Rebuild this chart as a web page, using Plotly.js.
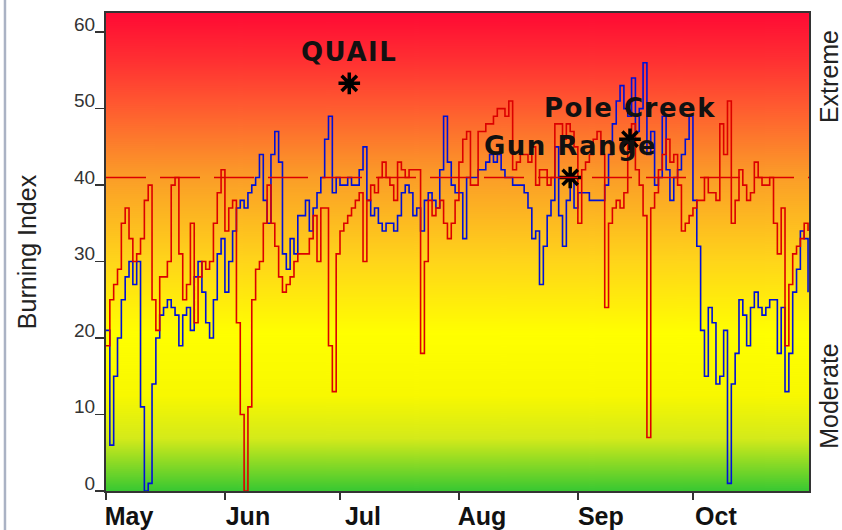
<!DOCTYPE html>
<html>
<head>
<meta charset="utf-8">
<script src="https://cdn.plot.ly/plotly-3.0.1.min.js"></script>
<style>
  html, body { margin: 0; padding: 0; background: #fff; }
  #chart { width: 842px; height: 530px; }
</style>
</head>
<body>
<div id="chart"></div>
<script>
// ---------------- DATA ----------------
const START_DATE = '2023-05-01';            // first daily value (May 1)
const END_RANGE = '2023-10-31 06:00';

// daily Burning Index, May 1 .. Oct 31 (blue station)
const blueSeries = [
  21, 6, 15, 20, 25, 28, 30, 27, 30, 11,
  0, 1, 14, 20, 23, 24, 25, 24, 23, 19,
  23, 24, 21, 28, 30, 26, 22, 20, 25, 31,
  33, 26, 30, 34, 37, 38, 37, 39, 40, 41,
  44, 38, 35, 44, 47, 43, 31, 29, 33, 31,
  36, 36, 38, 34, 37, 39, 41, 46, 49, 39,
  41, 40, 40, 41, 40, 40, 42, 45, 38, 36,
  37, 35, 34, 35, 35, 34, 36, 39, 40, 39,
  36, 37, 34, 38, 39, 38, 37, 42, 49, 43,
  40, 39, 39, 33, 41, 41, 41, 42, 42, 43,
  44, 43, 44, 42, 41, 41, 40, 40, 40, 39,
  37, 33, 34, 27, 32, 36, 38, 45, 36, 32,
  38, 41, 37, 39, 39, 39, 38, 38, 38, 38,
  40, 44, 48, 51, 53, 50, 49, 54, 47, 50,
  56, 44, 47, 40, 41, 49, 42, 38, 41, 42,
  44, 46, 49, 38, 32, 21, 15, 24, 22, 14,
  15, 21, 1, 14, 18, 25, 23, 19, 24, 26,
  24, 23, 24, 25, 25, 18, 24, 13, 18, 26,
  29, 34, 33, 26
];

// daily Burning Index, May 1 .. Oct 31 (red station)
const redSeries = [
  19, 25, 27, 29, 35, 37, 33, 30, 31, 33,
  38, 40, 25, 21, 28, 28, 30, 40, 41, 31,
  25, 27, 35, 22, 28, 30, 29, 30, 35, 39,
  42, 34, 37, 38, 22, 10, 0, 11, 25, 29,
  30, 35, 40, 35, 32, 28, 26, 27, 28, 30,
  31, 31, 31, 33, 36, 30, 37, 37, 19, 13,
  31, 34, 35, 36, 37, 38, 39, 30, 38, 40,
  39, 41, 43, 41, 40, 38, 43, 42, 41, 42,
  42, 42, 18, 30, 38, 36, 37, 38, 35, 33,
  35, 38, 43, 46, 47, 40, 40, 47, 47, 48,
  48, 49, 50, 50, 49, 51, 42, 43, 44, 44,
  43, 45, 40, 42, 42, 40, 41, 48, 48, 46,
  48, 47, 45, 35, 42, 43, 44, 46, 47, 44,
  24, 35, 37, 38, 37, 39, 46, 48, 42, 40,
  36, 7, 37, 39, 42, 44, 46, 43, 44, 40,
  34, 35, 36, 37, 38, 38, 41, 39, 39, 38,
  48, 44, 51, 35, 38, 42, 40, 38, 39, 43,
  41, 40, 40, 41, 35, 31, 37, 19, 27, 31,
  32, 33, 35, 34
];

const thresholdValue = 41;                  // dashed "extreme" threshold

// fire events
const fireNames  = ['QUAIL', 'Gun Range', 'Pole Creek'];
const fireDates  = ['2023-07-03 10:00', '2023-08-30', '2023-09-14 14:00'];
const fireValues = [53.3, 41, 46];

// axis ticks
const monthTickVals  = ['2023-05-01', '2023-06-01', '2023-07-01', '2023-08-01', '2023-09-01', '2023-10-01'];
const monthTickText  = ['May', 'Jun', 'Jul', 'Aug', 'Sep', 'Oct'];
const yTickVals = [0, 10, 20, 30, 40, 50, 60];

// ---------------- BUILD ----------------
function buildDates(start, n) {
  const out = [];
  const d0 = new Date(start + 'T00:00:00Z');
  for (let i = 0; i < n; i++) {
    const d = new Date(d0.getTime() + i * 86400000);
    out.push(d.toISOString().slice(0, 10));
  }
  return out;
}
const dates = buildDates(START_DATE, blueSeries.length);

// background gradient (red -> orange -> yellow -> green)
function gradientURL() {
  const c = document.createElement('canvas');
  c.width = 8; c.height = 478;
  const g = c.getContext('2d');
  const lg = g.createLinearGradient(0, 0, 0, c.height);
  lg.addColorStop(0.00, '#ff0a34');
  lg.addColorStop(0.10, '#ff3032');
  lg.addColorStop(0.19, '#ff5830');
  lg.addColorStop(0.34, '#fb9c28');
  lg.addColorStop(0.52, '#ffd51a');
  lg.addColorStop(0.67, '#ffff00');
  lg.addColorStop(0.80, '#f8f800');
  lg.addColorStop(0.89, '#d4ea1a');
  lg.addColorStop(1.00, '#38c832');
  g.fillStyle = lg;
  g.fillRect(0, 0, c.width, c.height);
  return c.toDataURL('image/png');
}

const FONT = 'Liberation Sans, Arial, Helvetica, sans-serif';

const traces = [
  {
    type: 'scatter', mode: 'lines', x: dates, y: blueSeries,
    line: { color: '#0010d8', width: 1.6, shape: 'hv' },
    hoverinfo: 'skip', showlegend: false
  },
  {
    type: 'scatter', mode: 'lines', x: dates, y: redSeries,
    line: { color: '#dc0000', width: 1.6, shape: 'hv' },
    hoverinfo: 'skip', showlegend: false
  },
  {
    type: 'scatter', mode: 'markers', x: fireDates, y: fireValues,
    marker: { symbol: 'asterisk-open', size: 18, color: '#000', line: { color: '#000', width: 3.5 } },
    hoverinfo: 'skip', showlegend: false
  }
];

const annotations = fireNames.map((name, i) => ({
  x: fireDates[i], y: fireValues[i], xref: 'x', yref: 'y',
  text: '<span style="letter-spacing:1.5px">' + name + '</span>',
  showarrow: false, yshift: 31, xanchor: 'center', yanchor: 'middle',
  font: { family: 'DejaVu Sans, sans-serif', size: 26, color: '#111', weight: 'bold' }
}));
annotations.push(
  { xref: 'paper', yref: 'paper', x: 1.0284, y: 0.868, text: 'Extreme', textangle: -90,
    showarrow: false, xanchor: 'center', yanchor: 'middle',
    font: { family: FONT, size: 25, color: '#222' } },
  { xref: 'paper', yref: 'paper', x: 1.0284, y: 0.199, text: 'Moderate', textangle: -90,
    showarrow: false, xanchor: 'center', yanchor: 'middle',
    font: { family: FONT, size: 25, color: '#222' } }
);

const layout = {
  width: 842, height: 530,
  margin: { l: 106, r: 33, t: 13, b: 39, pad: 0 },
  paper_bgcolor: '#ffffff',
  plot_bgcolor: 'rgba(0,0,0,0)',
  showlegend: false,
  images: [{
    source: gradientURL(), xref: 'paper', yref: 'paper',
    x: 0, y: 1, sizex: 1, sizey: 1, sizing: 'stretch',
    xanchor: 'left', yanchor: 'top', layer: 'below'
  }],
  xaxis: {
    type: 'date', range: [START_DATE, END_RANGE],
    tickvals: monthTickVals, ticktext: monthTickText,
    ticks: 'outside', ticklen: 7, tickwidth: 1.5, tickcolor: '#333',
    ticklabelshift: 23, ticklabelstandoff: -5,
    tickfont: { family: FONT, size: 25, color: '#111', weight: 'bold' },
    showline: true, mirror: true, linecolor: '#333', linewidth: 2,
    showgrid: false, zeroline: false, automargin: false, fixedrange: true
  },
  yaxis: {
    range: [0, 62.5], tickvals: yTickVals,
    ticks: 'outside', ticklen: 9, tickwidth: 1.5, tickcolor: '#333',
    ticklabelshift: -8, ticklabelstandoff: -4,
    tickfont: { family: FONT, size: 19, color: '#333' },
    showline: true, mirror: true, linecolor: '#333', linewidth: 2,
    showgrid: false, zeroline: false, automargin: true, fixedrange: true,
    title: { text: 'Burning Index', standoff: 30, font: { family: FONT, size: 25, color: '#222' } }
  },
  shapes: [
    { type: 'line', xref: 'paper', yref: 'y', x0: 0, x1: 1, y0: thresholdValue, y1: thresholdValue,
      line: { color: '#dc0000', width: 1.6, dash: '40px,14px' }, layer: 'above' },
    { type: 'line', xref: 'paper', yref: 'paper', x0: -0.1437, x1: -0.1437, y0: -0.1, y1: 1.05,
      line: { color: '#aab2c4', width: 2.5 } }
  ],
  annotations: annotations
};

Plotly.newPlot('chart', traces, layout, { displayModeBar: false, staticPlot: true });
</script>
</body>
</html>
